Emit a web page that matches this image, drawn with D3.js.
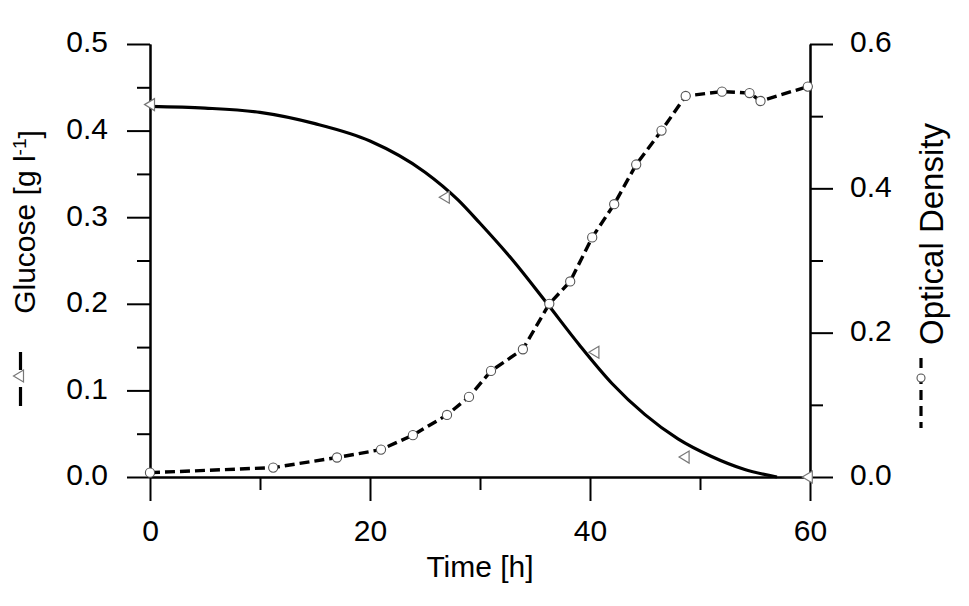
<!DOCTYPE html>
<html>
<head>
<meta charset="utf-8">
<script src="https://cdn.jsdelivr.net/npm/d3@7"></script>
<style>
  html, body { margin: 0; padding: 0; background: #fff; }
  svg { display: block; font-family: "Liberation Sans", Arial, sans-serif; }
</style>
</head>
<body>
<svg id="chart" width="969" height="606"></svg>
<script>
// ---- data ----
const glucoseTime   = [0, 26.8, 40.4, 48.6, 59.8];
const glucoseValues = [0.430, 0.323, 0.144, 0.023, 0.0];

const fitTime   = [0, 5, 10, 15, 20, 25, 28, 30, 33, 36, 39, 42, 45, 48, 51, 54, 57];
const fitValues = [0.428, 0.426, 0.421, 0.408, 0.388, 0.352, 0.320, 0.293, 0.250, 0.202, 0.153, 0.108, 0.072, 0.044, 0.024, 0.009, 0.0];

const odTime   = [0, 11.2, 17.0, 21.0, 23.9, 27.0, 29.0, 31.0, 33.9, 36.3, 38.2, 40.2, 42.2, 44.2, 46.5, 48.7, 52.0, 54.5, 55.5, 59.8];
const odValues = [0.006, 0.013, 0.027, 0.038, 0.058, 0.086, 0.111, 0.147, 0.177, 0.240, 0.271, 0.332, 0.378, 0.433, 0.480, 0.528, 0.534, 0.532, 0.521, 0.541];

const xMajorTicks = [0, 20, 40, 60];
const xMinorTicks = [10, 30, 50];
const yLeftMajorTicks = [0, 0.1, 0.2, 0.3, 0.4, 0.5];
const yLeftMinorTicks = [0.05, 0.15, 0.25, 0.35, 0.45];
const yRightMajorTicks = [0, 0.2, 0.4, 0.6];
const yRightMinorTicks = [0.1, 0.3, 0.5];

const xTitle = "Time [h]";
const yLeftTitle = "Glucose [g l";
const yRightTitle = "Optical Density";

// ---- layout ----
const svg = d3.select("#chart");
const L = 150, R = 810, T = 44, B = 477;
const FS = 30;

const x  = d3.scaleLinear().domain([0, 60]).range([L, R]);
const yL = d3.scaleLinear().domain([0, 0.5]).range([B, T]);
const yR = d3.scaleLinear().domain([0, 0.6]).range([B, T]);

function styleAxis(g) {
  g.selectAll("path.domain").attr("stroke", "#000").attr("stroke-width", 2);
  g.selectAll(".tick line").attr("stroke", "#000").attr("stroke-width", 2);
  g.selectAll(".tick text").attr("fill", "#000").style("font-size", FS + "px")
    .style("font-family", '"Liberation Sans", Arial, sans-serif');
}

// bottom axis
const gxMinor = svg.append("g").attr("transform", `translate(0,${B})`)
  .call(d3.axisBottom(x).tickValues(xMinorTicks).tickSize(13).tickSizeOuter(0).tickFormat(""));
const gx = svg.append("g").attr("transform", `translate(0,${B})`)
  .call(d3.axisBottom(x).tickValues(xMajorTicks).tickSize(24).tickSizeOuter(0).tickFormat(d3.format("d")));
styleAxis(gxMinor); styleAxis(gx);
gx.selectAll(".tick text").attr("y", 64).attr("dy", 0);

// left axis
const gyLMinor = svg.append("g").attr("transform", `translate(${L},0)`)
  .call(d3.axisLeft(yL).tickValues(yLeftMinorTicks).tickSize(13).tickSizeOuter(0).tickFormat(""));
const gyL = svg.append("g").attr("transform", `translate(${L},0)`)
  .call(d3.axisLeft(yL).tickValues(yLeftMajorTicks).tickSize(23).tickSizeOuter(0).tickFormat(d3.format(".1f")));
styleAxis(gyLMinor); styleAxis(gyL);
gyL.selectAll(".tick text").attr("x", -42).attr("dy", "0.26em");

// right axis
const gyRMinor = svg.append("g").attr("transform", `translate(${R},0)`)
  .call(d3.axisRight(yR).tickValues(yRightMinorTicks).tickSize(13).tickSizeOuter(0).tickFormat(""));
const gyR = svg.append("g").attr("transform", `translate(${R},0)`)
  .call(d3.axisRight(yR).tickValues(yRightMajorTicks).tickSize(23).tickSizeOuter(0).tickFormat(d3.format(".1f")));
styleAxis(gyRMinor); styleAxis(gyR);
gyR.selectAll(".tick text").attr("x", 40).attr("dy", "0.26em");

// ---- lines ----
const fitLine = d3.line().x((d, i) => x(fitTime[i])).y(d => yL(d)).curve(d3.curveMonotoneX);
svg.append("path").datum(fitValues).attr("d", fitLine)
  .attr("fill", "none").attr("stroke", "#000").attr("stroke-width", 3.2);

const odLine = d3.line().x((d, i) => x(odTime[i])).y(d => yR(d));
svg.append("path").datum(odValues).attr("d", odLine)
  .attr("fill", "none").attr("stroke", "#000").attr("stroke-width", 3.4)
  .attr("stroke-dasharray", "10,5");

// ---- markers ----
const tri = (cx, cy, s) => `M${cx - s * 0.55},${cy} L${cx + s * 0.45},${cy - s * 0.6} L${cx + s * 0.45},${cy + s * 0.6} Z`;
svg.append("g").selectAll("path").data(glucoseValues).join("path")
  .attr("d", (d, i) => tri(x(glucoseTime[i]), yL(d), 10))
  .attr("fill", "#fff").attr("stroke", "#777").attr("stroke-width", 1.2);

svg.append("g").selectAll("circle").data(odValues).join("circle")
  .attr("cx", (d, i) => x(odTime[i])).attr("cy", d => yR(d)).attr("r", 4.6)
  .attr("fill", "#fff").attr("stroke", "#555").attr("stroke-width", 1.1);

// ---- titles ----
svg.append("text").attr("x", (L + R) / 2 - 0).attr("y", 577)
  .attr("text-anchor", "middle").style("font-size", FS + "px").attr("fill", "#000")
  .text(xTitle);

// left title (rotated) with legend glyph
const lt = svg.append("text")
  .attr("transform", `translate(35,222) rotate(-90)`)
  .attr("text-anchor", "middle").style("font-size", FS + "px").attr("fill", "#000");
lt.append("tspan").text(yLeftTitle);
lt.append("tspan").attr("dy", "-0.45em").style("font-size", "19px").text("-1");
lt.append("tspan").attr("dy", "0.45em").text("]");

const lg = svg.append("g");
lg.append("line").attr("x1", 20.5).attr("x2", 20.5).attr("y1", 352).attr("y2", 370)
  .attr("stroke", "#000").attr("stroke-width", 3.2);
lg.append("line").attr("x1", 20.5).attr("x2", 20.5).attr("y1", 387).attr("y2", 406)
  .attr("stroke", "#000").attr("stroke-width", 3.2);
lg.append("path").attr("d", tri(19, 376, 10))
  .attr("fill", "#fff").attr("stroke", "#777").attr("stroke-width", 1.2);

// right title (rotated) with legend glyph
svg.append("text")
  .attr("transform", `translate(943,234) rotate(-90)`)
  .attr("text-anchor", "middle").style("font-size", "33px").attr("fill", "#000")
  .text(yRightTitle);

const rg = svg.append("g");
rg.append("line").attr("x1", 921).attr("x2", 921).attr("y1", 358).attr("y2", 428)
  .attr("stroke", "#000").attr("stroke-width", 3.2).attr("stroke-dasharray", "10,6");
rg.append("circle").attr("cx", 921).attr("cy", 378).attr("r", 4)
  .attr("fill", "#fff").attr("stroke", "#555").attr("stroke-width", 1.1);
</script>
</body>
</html>
